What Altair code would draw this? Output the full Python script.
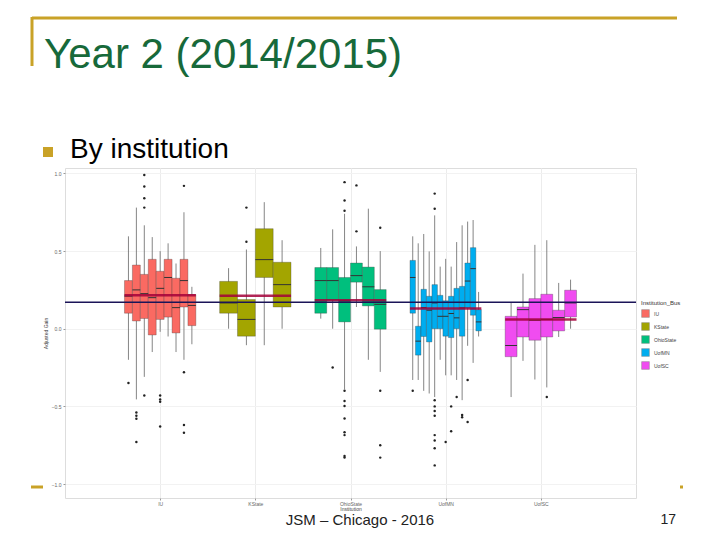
import json
import altair as alt
import pandas as pd

# ---------------- data ----------------
institutions = ["IU", "KState", "OhioState", "UofMN", "UofSC"]
colors = ["#FA6A62", "#A3A500", "#00BF7D", "#00ADEF", "#F04CF0"]

# each box: (lower whisker, Q1, median, Q3, upper whisker)
iu_boxes = [(-0.20, 0.10, 0.21, 0.31, 0.595), (-0.455, 0.05, 0.25, 0.41, 0.78),
            (-0.31, 0.066, 0.226, 0.35, 0.666), (-0.15, -0.04, 0.20, 0.447, 0.59),
            (-0.02, 0.06, 0.26, 0.37, 0.50), (-0.05, 0.075, 0.33, 0.447, 0.55),
            (-0.15, -0.027, 0.136, 0.325, 0.42), (-0.20, 0.14, 0.31, 0.447, 0.75),
            (-0.10, 0.02, 0.15, 0.22, 0.27)]
iu_outliers = [[-0.35], [-0.54, -0.56, -0.58, -0.73], [0.99, 0.916, 0.84, 0.78, -0.43], [],
               [-0.43, -0.455, -0.47, -0.63], [], [], [0.92, -0.28, -0.62, -0.67], []]

ks_boxes = [(0.0, 0.10, 0.166, 0.305, 0.39), (-0.106, -0.048, 0.06, 0.188, 0.51),
            (-0.106, 0.33, 0.445, 0.644, 0.815), (0.0, 0.14, 0.284, 0.428, 0.57)]
ks_outliers = [[], [0.56, 0.78], [], []]

os_boxes = [(0.065, 0.10, 0.31, 0.394, 0.52), (0.0, 0.183, 0.31, 0.394, 0.64),
            (-0.39, 0.044, 0.18, 0.33, 0.74), (0.14, 0.30, 0.342, 0.423, 0.53),
            (-0.20, 0.147, 0.27, 0.397, 0.773), (-0.278, -0.003, 0.157, 0.252, 0.50)]
os_outliers = [[], [-0.25],
               [0.944, 0.826, 0.76, -0.40, -0.466, -0.498, -0.578, -0.667, -0.685, -0.82, -0.83],
               [0.923, 0.627], [], [0.65, -0.40, -0.75, -0.83]]

mn_boxes = [(-0.33, 0.10, 0.33, 0.44, 0.595), (-0.33, -0.17, -0.08, 0.016, 0.55),
            (-0.40, -0.05, 0.136, 0.254, 0.61), (-0.417, -0.085, 0.119, 0.209, 0.498),
            (-0.44, 0.0, 0.166, 0.284, 0.73), (-0.20, 0.0, 0.08, 0.215, 0.40),
            (-0.30, -0.048, 0.08, 0.18, 0.45), (-0.30, -0.057, 0.098, 0.209, 0.40),
            (-0.33, 0.0, 0.07, 0.26, 0.558), (-0.46, -0.048, 0.134, 0.273, 0.666),
            (-0.11, 0.134, 0.307, 0.423, 0.69), (-0.22, 0.087, 0.387, 0.522, 0.70),
            (-0.05, -0.014, 0.044, 0.123, 0.237)]
mn_outliers = [[-0.40], [], [], [],
               [0.87, 0.773, -0.46, -0.50, -0.53, -0.56, -0.685, -0.72, -0.77, -0.88],
               [], [-0.73], [-0.50, -0.66], [-0.44], [-0.556, -0.57], [-0.33, -0.60], [], []]

sc_boxes = [(-0.44, -0.18, -0.108, 0.08, 0.166), (-0.207, -0.053, 0.123, 0.14, 0.355),
            (-0.327, -0.074, 0.055, 0.194, 0.54), (-0.378, -0.053, 0.06, 0.222, 0.57),
            (-0.053, -0.014, 0.072, 0.119, 0.295), (0.0, 0.076, 0.166, 0.248, 0.316)]
sc_outliers = [[], [], [], [-0.44], [], []]

group_means = [0.215, 0.213, 0.183, 0.13, 0.06]
overall_mean = 0.17

all_boxes = [iu_boxes, ks_boxes, os_boxes, mn_boxes, sc_boxes]
all_outliers = [iu_outliers, ks_outliers, os_outliers, mn_outliers, sc_outliers]

# ---------------- tables ----------------
GROUP_W = 0.75
box_rows, out_rows, mean_rows = [], [], []
for g, (name, boxes, outs) in enumerate(zip(institutions, all_boxes, all_outliers), start=1):
    n = len(boxes)
    w = GROUP_W / n
    for j, (lo, q1, med, q3, hi) in enumerate(boxes):
        x0 = g - GROUP_W / 2 + j * w
        box_rows.append(dict(inst=name, x0=x0, x1=x0 + w, xc=x0 + w / 2,
                             lo=lo, q1=q1, med=med, q3=q3, hi=hi))
        for v in outs[j]:
            out_rows.append(dict(inst=name, xc=x0 + w / 2, v=v))
    mean_rows.append(dict(inst=name, x0=g - GROUP_W / 2, x1=g + GROUP_W / 2, m=group_means[g - 1]))

boxes_df = pd.DataFrame(box_rows)
out_df = pd.DataFrame(out_rows)
mean_df = pd.DataFrame(mean_rows)
overall_df = pd.DataFrame({"m": [overall_mean]})
one = pd.DataFrame({"k": [0]})

FONT = "Liberation Sans"
xscale = alt.Scale(domain=[0, 6], nice=False, zero=False)
yscale = alt.Scale(domain=[-1.09, 1.035], nice=False, zero=False)
xaxis = alt.Axis(values=[1, 2, 3, 4, 5],
                 labelExpr=json.dumps(institutions) + "[datum.value - 1]",
                 title="Institution", titleFontSize=5, titleFontWeight="normal",
                 titleColor="#444", titlePadding=0, labelFontSize=5, labelColor="#666",
                 grid=True, gridColor="#ececec", domain=False, tickSize=2, tickColor="#999",
                 labelPadding=1)
yaxis = alt.Axis(values=[-1, -0.5, 0, 0.5, 1], format=".1f",
                 title="Adjusted Gain", titleFontSize=5, titleFontWeight="normal",
                 titleColor="#444", titlePadding=3, labelFontSize=5, labelColor="#666",
                 grid=True, gridColor="#f2f2f2", domain=False, tickSize=2, tickColor="#999",
                 labelPadding=2)

whiskers = alt.Chart(boxes_df).mark_rule(color="#666", strokeWidth=0.8).encode(
    x=alt.X("xc:Q", scale=xscale, axis=xaxis),
    y=alt.Y("lo:Q", scale=yscale, axis=yaxis),
    y2="hi:Q",
)
bars = alt.Chart(boxes_df).mark_bar(stroke="#333", strokeWidth=0.5, strokeOpacity=0.6).encode(
    x=alt.X("x0:Q", scale=xscale, axis=xaxis),
    x2="x1:Q",
    y=alt.Y("q1:Q", scale=yscale, axis=yaxis),
    y2="q3:Q",
    fill=alt.Fill("inst:N", scale=alt.Scale(domain=institutions, range=colors),
                  legend=alt.Legend(orient="none", legendX=576, legendY=132,
                                    title="Institution_Bus", titleFontSize=6,
                                    titleFontWeight="normal", titleColor="#333",
                                    labelFontSize=5, labelColor="#444",
                                    symbolType="square", symbolSize=60,
                                    symbolStrokeColor="#888", symbolStrokeWidth=0.5,
                                    rowPadding=2, titlePadding=3)),
)
medians = alt.Chart(boxes_df).mark_rule(color="#333", strokeWidth=1).encode(
    x=alt.X("x0:Q", scale=xscale, axis=xaxis),
    x2="x1:Q",
    y=alt.Y("med:Q", scale=yscale, axis=yaxis),
)
outliers = alt.Chart(out_df).mark_circle(size=6, color="#222", opacity=1).encode(
    x=alt.X("xc:Q", scale=xscale, axis=xaxis),
    y=alt.Y("v:Q", scale=yscale, axis=yaxis),
)
means = alt.Chart(mean_df).mark_rule(color="#A3003A", strokeWidth=2.5, opacity=0.85).encode(
    x=alt.X("x0:Q", scale=xscale, axis=xaxis),
    x2="x1:Q",
    y=alt.Y("m:Q", scale=yscale, axis=yaxis),
)
overall = alt.Chart(overall_df).mark_rule(color="#1B1458", strokeWidth=1.5).encode(
    y=alt.Y("m:Q", scale=yscale, axis=yaxis),
)

# ---------------- slide decorations ----------------
GOLD = "#C9A227"
top_line = alt.Chart(one).mark_rule(color=GOLD, strokeWidth=3).encode(
    x=alt.value(-33), x2=alt.value(612), y=alt.value(-150))
left_line = alt.Chart(one).mark_rule(color=GOLD, strokeWidth=3).encode(
    x=alt.value(-33), y=alt.value(-151), y2=alt.value(-102))
dash_l = alt.Chart(one).mark_rule(color=GOLD, strokeWidth=3).encode(
    x=alt.value(-34), x2=alt.value(-22), y=alt.value(319))
dash_r = alt.Chart(one).mark_rule(color=GOLD, strokeWidth=3).encode(
    x=alt.value(615), x2=alt.value(618), y=alt.value(319))
title = alt.Chart(one).mark_text(text="Year 2 (2014/2015)", font=FONT, fontSize=42,
                                 color="#17693A", align="left", baseline="alphabetic").encode(
    x=alt.value(-21), y=alt.value(-100))
bullet = alt.Chart(one).mark_square(size=100, color=GOLD, opacity=1).encode(
    x=alt.value(-17), y=alt.value(-16))
sub = alt.Chart(one).mark_text(text="By institution", font=FONT, fontSize=28,
                               color="#000", align="left", baseline="middle").encode(
    x=alt.value(5), y=alt.value(-18))
footer = alt.Chart(one).mark_text(text="JSM – Chicago - 2016", font=FONT, fontSize=15,
                                  color="#222", align="center", baseline="middle").encode(
    x=alt.value(295), y=alt.value(352))
page = alt.Chart(one).mark_text(text="17", font=FONT, fontSize=14,
                                color="#222", align="right", baseline="middle").encode(
    x=alt.value(611), y=alt.value(352))

chart = alt.layer(
    whiskers, bars, medians, outliers, means, overall,
    top_line, left_line, dash_l, dash_r, title, bullet, sub, footer, page,
).properties(
    width=571, height=330,
    padding={"left": 65, "top": 168, "right": 84, "bottom": 42},
    autosize=alt.AutoSizeParams(type="none"),
    background="white",
).configure_view(stroke="#cccccc", strokeWidth=1).configure(font=FONT)

chart.save("out.html", embed_options={"renderer": "svg", "actions": False})
